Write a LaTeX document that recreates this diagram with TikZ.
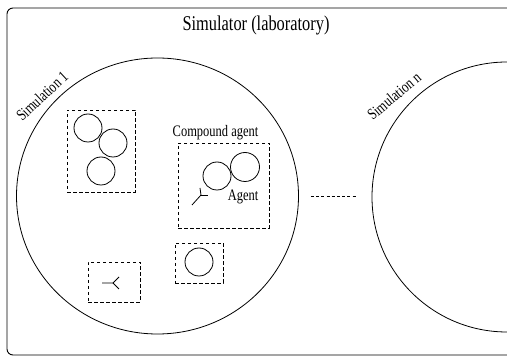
\documentclass[tikz,border=0pt]{standalone}
\usepackage{fontspec}
\setmainfont[FakeStretch=0.78]{Liberation Serif}
\usetikzlibrary{shapes.geometric}
\begin{document}
\begin{tikzpicture}[x=1pt,y=-1pt,
  simcirc/.style={ellipse,draw,line width=0.8pt,inner sep=0pt},
  agentc/.style={circle,draw,line width=0.8pt,inner sep=0pt,minimum size=28pt},
  dbox/.style={draw,line width=0.8pt,dash pattern=on 3.5pt off 2.5pt,inner sep=0pt},
  lbl/.style={font=\fontsize{16}{18}\selectfont,inner sep=1pt},
  sensor/.style={line width=0.8pt}]
\useasboundingbox (0,0) rectangle (507,358);
\clip (0,0) rectangle (507,358);
% laboratory frame
\draw[line width=0.9pt,rounded corners=6pt] (7,8) rectangle (530,355);
\node[font=\fontsize{21}{24}\selectfont] (title) at (256,25) {Simulator (laboratory)};
% simulations
\node[simcirc,minimum width=282pt,minimum height=276pt] (sim1) at (157.5,196) {};
\node[simcirc,minimum width=270pt,minimum height=270pt] (simn) at (507,197) {};
\draw[line width=0.8pt,dash pattern=on 3pt off 2.2pt,shorten <=12pt,shorten >=16pt]
  (sim1.east) -- (sim1.east -| simn.west);
\node[lbl,rotate=43] (s1lbl) at (42,96) {Simulation 1};
\node[lbl,rotate=40] (snlbl) at (394,96) {Simulation n};
% group of three agents
\node[dbox,minimum width=68pt,minimum height=82pt] (boxA) at (101,151) {};
\node[agentc] (a1) at (88,128) {};
\node[agentc] (a2) at (113,143) {};
\node[agentc] (a3) at (101,171) {};
% compound agent
\node[dbox,minimum width=91pt,minimum height=85pt] (boxC) at (223.5,185.5) {};
\node[lbl,anchor=south] (clbl) at (boxC.north) [xshift=-8pt,yshift=1pt] {Compound agent};
\node[agentc] (c1) at (217,176) {};
\node[agentc,minimum size=29pt] (c2) at (245,167) {};
\node[lbl] (alb) at (243,197) {Agent};
\coordinate (sj) at (201,195);
\draw[sensor] (192,205) -- (sj) -- (200,188);
\draw[sensor] (sj) -- (208,195);
% single agent
\node[dbox,minimum width=48pt,minimum height=40pt] (boxS) at (199,263) {};
\node[agentc] (s1) at (199,262) {};
% single sensor
\node[dbox,minimum width=52pt,minimum height=40pt] (boxT) at (114,282) {};
\coordinate (tj) at (113,283);
\draw[sensor] (102,283) -- (tj) -- (119,277);
\draw[sensor] (tj) -- (119,289);
\end{tikzpicture}
\end{document}
